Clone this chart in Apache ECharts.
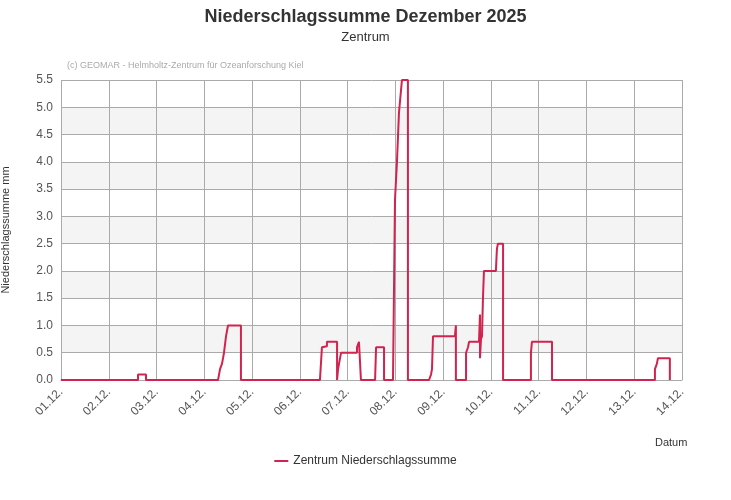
<!DOCTYPE html>
<html><head><meta charset="utf-8">
<script src="https://cdn.jsdelivr.net/npm/echarts@6/dist/echarts.min.js"></script>
<style>html,body{margin:0;padding:0;background:#fff}#c{width:731px;height:500px}</style>
</head><body><div id="c"></div>
<script>
const dayLabels = ['01.12.','02.12.','03.12.','04.12.','05.12.','06.12.','07.12.','08.12.','09.12.','10.12.','11.12.','12.12.','13.12.','14.12.'];
// hours since 01.12. 00:00
const hours = [0,38.7,38.7,42.7,42.7,78.9,79.9,80.9,81.9,82.9,83.9,90.4,90.4,130.1,131.1,131.1,133.6,133.6,138.7,138.7,139.2,140.2,140.7,148.7,148.7,149.7,150.7,150.7,157.8,158.3,162.3,162.3,166.8,167.8,168.8,169.8,170.8,171.3,174.3,174.3,184.9,185.9,186.4,186.9,197.9,198.4,198.4,203.5,203.5,204.5,205,210,210.5,210.5,211,211.5,212,212.5,218.5,219,219.5,222.1,222.1,236.1,236.1,236.6,246.7,246.7,298.4,298.4,299.4,299.9,305.9,305.9];
const values = [0,0,0.1,0.1,0,0,0.2,0.3,0.5,0.8,1.0,1.0,0,0,0.6,0.62,0.62,0.7,0.7,0,0.2,0.4,0.5,0.5,0.6,0.7,0.7,0,0,0.6,0.6,0,0,3.3,4.0,4.9,5.3,5.5,5.5,0,0,0.1,0.2,0.8,0.8,1.0,0,0,0.5,0.6,0.7,0.7,1.2,0.4,0.75,0.8,1.5,2.0,2.0,2.4,2.5,2.5,0,0,0.5,0.7,0.7,0,0,0.2,0.3,0.4,0.4,0];
const seriesData = hours.map((h,i)=>[h,values[i]]);
const chart = echarts.init(document.getElementById('c'));
chart.setOption({
  animation:false,
  title:[{text:'Niederschlagssumme Dezember 2025',left:'center',top:3,textStyle:{fontFamily:'Liberation Sans',fontSize:18,fontWeight:'bold',color:'#333'}},
         {text:'Zentrum',left:'center',top:26,textStyle:{fontFamily:'Liberation Sans',fontSize:13,fontWeight:'normal',color:'#333'}},
         {text:'(c) GEOMAR - Helmholtz-Zentrum für Ozeanforschung Kiel',left:62,top:56,textStyle:{fontFamily:'Liberation Sans',fontSize:9,fontWeight:'normal',color:'#aaa'}},
         {text:'Datum',left:650,top:432,textStyle:{fontFamily:'Liberation Sans',fontSize:11,fontWeight:'normal',color:'#333'}}],
  legend:{bottom:28,left:'center',itemWidth:14,itemHeight:2,icon:'rect',textStyle:{fontFamily:'Liberation Sans',fontSize:12,color:'#333'},data:['Zentrum Niederschlagssumme']},
  grid:{left:61,right:49,top:80,bottom:120,containLabel:false,outerBoundsMode:'none'},
  xAxis:{type:'value',min:0,max:312,interval:24,
    axisLine:{show:true,lineStyle:{color:'#aaa'}},axisTick:{show:false},
    splitLine:{show:true,lineStyle:{color:'#aaa',width:1}},
    axisLabel:{rotate:45,margin:10,fontFamily:'Liberation Sans',fontSize:12,color:'#555',formatter:v=>dayLabels[Math.round(v/24)]}},
  yAxis:{type:'value',min:0,max:5.5,interval:0.5,name:'Niederschlagssumme mm',nameLocation:'middle',nameGap:50,
    nameTextStyle:{fontFamily:'Liberation Sans',fontSize:11,color:'#333'},
    axisLine:{show:false},axisTick:{show:false},
    splitLine:{lineStyle:{color:'#aaa'}},
    splitArea:{show:true,areaStyle:{color:['#ffffff','#f4f4f4']}},
    axisLabel:{margin:8,fontFamily:'Liberation Sans',fontSize:12,color:'#555',formatter:v=>v.toFixed(1)}},
  series:[{name:'Zentrum Niederschlagssumme',type:'line',data:seriesData,showSymbol:false,
    lineStyle:{color:'#d0234f',width:2},itemStyle:{color:'#d0234f'}}]
});
</script></body></html>
